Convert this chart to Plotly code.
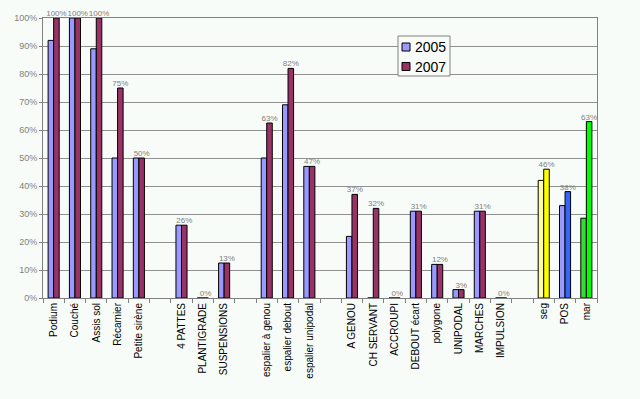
import plotly.graph_objects as go

categories = ["Podium", "Couché", "Assis sol", "Récamier", "Petite sirène", " ",
              "4 PATTES", "PLANTIGRADE", "SUSPENSIONS", "  ",
              "espalier à genou", "espalier debout", "espalier unipodal", "   ",
              "A GENOU", "CH SERVANT", "ACCROUPI", "DEBOUT écart", "polygone",
              "UNIPODAL", "MARCHES", "IMPULSION", "    ", "seg", "POS", "mar"]

v2005 = [92, 100, 89, 50, 50, None,
         26, 0, 12.5, None,
         50, 69, 47, None,
         22, 0, 0, 31, 12,
         3, 31, 0, None, 42, 33, 28.5]

v2007 = [100, 100, 100, 75, 50, None,
         26, 0, 12.5, None,
         62.5, 82, 47, None,
         37, 32, 0, 31, 12,
         3, 31, 0, None, 46, 38, 63]

series_names = ["2005", "2007"]

special_2005 = {"seg": "#FFFF99", "POS": "#9999FF", "mar": "#33DD33"}
special_2007 = {"seg": "#FFFF00", "POS": "#3366FF", "mar": "#00FF00"}
base_colors = ["#9999FF", "#993366"]

col05 = [special_2005.get(c, base_colors[0]) for c in categories]
col07 = [special_2007.get(c, base_colors[1]) for c in categories]
labels07 = ["" if v is None else f"{int(v + 0.5)}%" for v in v2007]

W, H = 640, 399
ML, MR, MT, MB = 43, 43, 18, 101
pw, ph = W - ML - MR, H - MT - MB


def px(x):
    return (x - ML) / pw


def py(y):
    return (H - MB - y) / ph


bg = "#F8FCF8"
fig = go.Figure()
fig.add_trace(go.Bar(x=categories, y=v2005, name=series_names[0],
                     marker=dict(color=col05, line=dict(color="black", width=1))))
fig.add_trace(go.Bar(x=categories, y=v2007, name=series_names[1],
                     marker=dict(color=col07, line=dict(color="black", width=1)),
                     text=labels07, textposition="outside", cliponaxis=False,
                     constraintext="none",
                     textfont=dict(family="Liberation Sans, Arial", size=8, color="#808080")))

# legend box drawn by hand (compact, like the original)
shapes = [dict(type="rect", xref="paper", yref="paper",
               x0=px(398), x1=px(450), y0=py(76), y1=py(36),
               line=dict(color="#808080", width=1), fillcolor=bg, layer="above")]
annotations = []
for i, (nm, col) in enumerate(zip(series_names, base_colors)):
    cy = 47 + i * 19.5
    shapes.append(dict(type="rect", xref="paper", yref="paper",
                       x0=px(402), x1=px(410), y0=py(cy + 4), y1=py(cy - 4),
                       line=dict(color="black", width=1), fillcolor=col, layer="above"))
    annotations.append(dict(xref="paper", yref="paper", x=px(413), y=py(cy),
                            text=nm, showarrow=False, xanchor="left", yanchor="middle",
                            font=dict(family="Liberation Sans, Arial", size=14, color="black")))

fig.update_layout(
    width=W, height=H,
    margin=dict(l=ML, r=MR, t=MT, b=MB),
    paper_bgcolor=bg, plot_bgcolor=bg,
    barmode="group", bargap=0.48, bargroupgap=0,
    font=dict(family="Liberation Sans, Arial", color="black"),
    showlegend=False,
    shapes=shapes, annotations=annotations,
    xaxis=dict(type="category", tickangle=-90, tickson="boundaries",
               ticks="outside", ticklen=4, tickcolor="#808080",
               showline=True, linecolor="#808080", mirror=True,
               showgrid=False, automargin=False,
               tickfont=dict(size=10, color="black")),
    yaxis=dict(range=[0, 100], dtick=10, ticksuffix="%",
               ticks="outside", ticklen=3, tickcolor="#808080",
               showline=True, linecolor="#808080", mirror=True,
               showgrid=True, gridcolor="#909090", gridwidth=1,
               zeroline=False, automargin=False,
               tickfont=dict(size=9, color="#808080")),
)

fig.write_html("out.html", config={"displayModeBar": False},
               post_script="document.body.style.margin='0';")
